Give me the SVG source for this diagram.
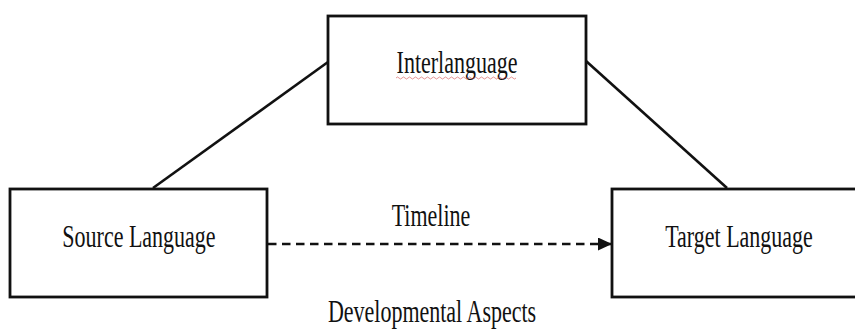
<svg xmlns="http://www.w3.org/2000/svg" width="855" height="329" viewBox="0 0 855 329">
<style>
.box{fill:#fff;stroke:#111;stroke-width:2.8}
.lbl{font-family:"Liberation Serif","Times New Roman",serif;font-size:22px;fill:#111;text-anchor:middle}
.conn{stroke:#111;stroke-width:2.6;fill:none}
</style>
<defs>
<marker id="arr" markerWidth="14" markerHeight="13" refX="14" refY="6.5" orient="auto" markerUnits="userSpaceOnUse">
<path d="M0,0 L14,6.5 L0,13 Z" fill="#111"/>
</marker>
</defs>
<rect width="855" height="329" fill="#fff"/>
<g id="connectors">
<line class="conn" x1="328" y1="62" x2="153" y2="188"/>
<line class="conn" x1="586" y1="61" x2="727" y2="188"/>
<line class="conn" x1="268" y1="244" x2="612" y2="244" stroke-width="3.2" stroke-dasharray="8.5,5.5" marker-end="url(#arr)"/>
<text class="lbl" transform="translate(431,226) scale(1,1.4)" font-size="21">Timeline</text>
<text class="lbl" transform="translate(432,322) scale(1,1.4)">Developmental Aspects</text>
</g>
<g id="interlanguage">
<rect class="box" x="328" y="16" width="258" height="108"/>
<text class="lbl" transform="translate(457,73) scale(1,1.4)">Interlanguage</text>
<path d="M396,78 q1.5,-2 3,0 t3,0 t3,0 t3,0 t3,0 t3,0 t3,0 t3,0 t3,0 t3,0 t3,0 t3,0 t3,0 t3,0 t3,0 t3,0 t3,0 t3,0 t3,0 t3,0 t3,0 t3,0 t3,0 t3,0 t3,0 t3,0 t3,0 t3,0 t3,0 t3,0 t3,0 t3,0 t3,0 t3,0 t3,0 t3,0 t3,0 t3,0 t3,0 t3,0" fill="none" stroke="#d04040" stroke-width="0.8" opacity="0.7"/>
</g>
<g id="source">
<rect class="box" x="10" y="189" width="257" height="108"/>
<text class="lbl" transform="translate(139,247) scale(1,1.4)">Source Language</text>
</g>
<g id="target">
<rect class="box" x="612" y="189" width="250" height="108"/>
<text class="lbl" transform="translate(739,247) scale(1,1.4)">Target Language</text>
</g>
</svg>
